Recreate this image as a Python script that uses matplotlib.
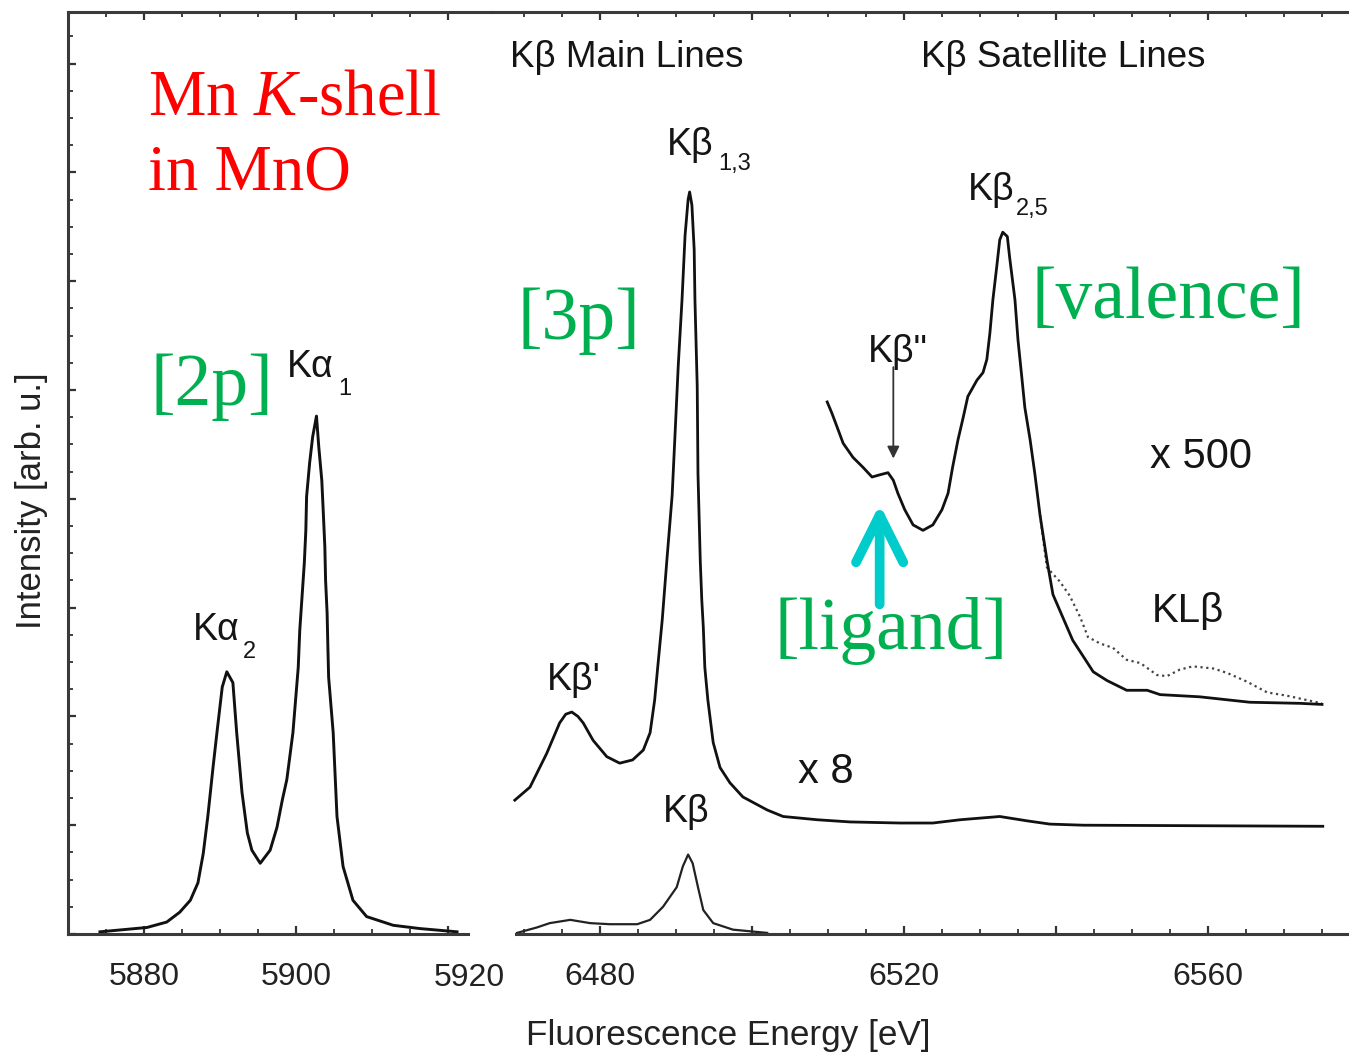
import matplotlib
matplotlib.use("Agg")
import matplotlib.pyplot as plt
from matplotlib.ticker import FixedLocator, MultipleLocator, FuncFormatter

plt.rcParams['font.family'] = ['Liberation Sans', 'DejaVu Sans']
plt.rcParams['mathtext.fontset'] = 'custom'
plt.rcParams['mathtext.rm'] = 'Liberation Serif'
plt.rcParams['mathtext.it'] = 'Liberation Serif:italic'

# K-alpha emission (left panel)
ka_energy = [5874.2, 5880.4, 5883.0, 5884.7, 5886.1, 5887.1, 5887.8, 5888.4, 5889.1, 5889.6,
             5890.3, 5890.9, 5891.7, 5892.2, 5892.9, 5893.6, 5894.2, 5895.3, 5896.6, 5897.5,
             5898.2, 5898.8, 5899.6, 5900.3, 5900.5, 5900.8, 5901.1, 5901.3, 5901.4, 5901.8,
             5902.2, 5902.7, 5903.0, 5903.4, 5903.6, 5903.8, 5903.9, 5904.1, 5904.2, 5904.3,
             5904.9, 5905.4, 5906.2, 5907.5, 5909.3, 5912.8, 5916.3, 5921.2]
ka_int = [0.02, 0.06, 0.11, 0.20, 0.31, 0.47, 0.74, 1.08, 1.54, 1.85,
          2.27, 2.41, 2.31, 1.85, 1.30, 0.93, 0.77, 0.65, 0.77, 0.98,
          1.23, 1.42, 1.85, 2.45, 2.79, 3.10, 3.41, 3.71, 4.02, 4.33,
          4.57, 4.76, 4.48, 4.17, 3.87, 3.56, 3.25, 2.95, 2.64, 2.36,
          1.85, 1.08, 0.62, 0.31, 0.16, 0.08, 0.05, 0.02]

# K-beta main lines, as measured (x1)
kb_energy = [6469.1, 6471.7, 6473.4, 6476.1, 6478.7, 6481.3, 6484.9, 6486.6, 6488.3, 6490.1,
             6490.9, 6491.6, 6492.2, 6492.9, 6493.6, 6494.9, 6497.5, 6502.0]
kb_int = [0.01, 0.06, 0.10, 0.13, 0.10, 0.09, 0.09, 0.13, 0.25, 0.43,
          0.62, 0.73, 0.65, 0.43, 0.22, 0.10, 0.04, 0.01]

# K-beta main lines, x8
kb8_energy = [6468.8, 6470.8, 6473.0, 6474.7, 6475.5, 6476.3, 6477.1, 6477.8, 6479.1, 6480.9,
              6482.6, 6484.3, 6485.7, 6486.6, 6487.2, 6487.6, 6488.2, 6488.8, 6489.5, 6489.9,
              6490.3, 6490.8, 6491.2, 6491.6, 6491.8, 6492.1, 6492.4, 6492.5, 6492.8, 6492.9,
              6493.2, 6493.4, 6493.6, 6493.8, 6494.2, 6494.9, 6495.8, 6497.1, 6498.8, 6502.0,
              6504.1, 6508.6, 6512.9, 6519.5, 6523.8, 6527.4, 6532.6, 6536.2, 6539.2, 6543.6,
              6575.1]
kb8_int = [1.23, 1.35, 1.66, 1.94, 2.02, 2.04, 2.00, 1.94, 1.78, 1.63,
           1.57, 1.60, 1.69, 1.85, 2.15, 2.45, 2.89, 3.43, 4.03, 4.62,
           5.22, 5.83, 6.42, 6.75, 6.82, 6.70, 6.29, 5.83, 5.03, 4.23,
           3.43, 3.07, 2.82, 2.45, 2.15, 1.76, 1.53, 1.39, 1.26, 1.14,
           1.08, 1.05, 1.03, 1.02, 1.02, 1.05, 1.08, 1.04, 1.01, 1.00,
           0.99]

# K-beta satellite lines, x500 (solid)
sat_energy = [6509.9, 6510.5, 6511.2, 6512.0, 6513.3, 6514.6, 6515.8, 6516.8, 6517.9, 6518.6,
              6519.2, 6520.1, 6521.2, 6522.5, 6523.8, 6525.0, 6525.8, 6526.4, 6527.1, 6527.8,
              6528.4, 6529.6, 6530.4, 6530.9, 6531.3, 6531.7, 6532.2, 6532.6, 6533.0, 6533.6,
              6533.9, 6534.6, 6535.0, 6535.5, 6535.9, 6536.6, 6537.2, 6537.9, 6538.8, 6539.6,
              6540.9, 6542.2, 6543.6, 6544.9, 6546.7, 6549.3, 6552.0, 6553.7, 6558.9, 6565.5,
              6572.1, 6575.0]
sat_int = [4.89, 4.79, 4.66, 4.51, 4.38, 4.29, 4.20, 4.22, 4.24, 4.17,
           4.05, 3.90, 3.76, 3.71, 3.76, 3.90, 4.05, 4.29, 4.54, 4.75,
           4.94, 5.09, 5.16, 5.28, 5.52, 5.83, 6.13, 6.38, 6.45, 6.41,
           6.22, 5.83, 5.46, 5.12, 4.84, 4.54, 4.24, 3.85, 3.44, 3.12,
           2.91, 2.70, 2.55, 2.41, 2.33, 2.24, 2.24, 2.20, 2.18, 2.13,
           2.12, 2.11]

# second satellite spectrum (dotted), splits off the solid one on the high side
sat2_energy = [6537.9, 6538.8, 6540.5, 6541.8, 6543.2, 6544.2, 6545.8, 6547.5, 6549.3, 6551.1,
               6553.3, 6554.6, 6556.3, 6558.0, 6560.7, 6562.5, 6565.1, 6567.8, 6570.4, 6573.0,
               6575.0]
sat2_int = [3.85, 3.37, 3.24, 3.11, 2.91, 2.73, 2.67, 2.63, 2.52, 2.49,
            2.38, 2.37, 2.43, 2.46, 2.44, 2.40, 2.32, 2.22, 2.19, 2.15,
            2.12]

W, H = 1349, 1057
fig = plt.figure(figsize=(W / 100, H / 100), dpi=100)
ax1 = fig.add_axes([68 / W, 123 / H, 424 / W, 922 / H])
ax2 = fig.add_axes([492 / W, 123 / H, 857 / W, 922 / H])

for ax in (ax1, ax2):
    ax.set_ylim(0, 8.474)
    for s in ax.spines.values():
        s.set_linewidth(2.2)
        s.set_color('#3a3a3a')
    ax.spines['right'].set_visible(False)
    ax.tick_params(axis='x', which='both', direction='in', top=True, bottom=True,
                   colors='#333333', labelcolor='#222222', labelsize=23, pad=20)
    ax.tick_params(axis='x', which='major', length=6, width=1.6)
    ax.tick_params(axis='x', which='minor', length=3.5, width=1.3)

ax1.set_xlim(5870.0, 5925.8)
ax2.set_xlim(6465.8, 6578.55)
ax2.spines['left'].set_visible(False)
ax1.spines['bottom'].set_bounds(5870.0, 5922.6)
ax2.spines['bottom'].set_bounds(6468.9, 6578.55)

ax1.xaxis.set_major_locator(FixedLocator([5880, 5900, 5920]))
ax1.xaxis.set_minor_locator(FixedLocator(list(range(5870, 5921, 5))))
# the 5920 label sits right of its tick in the original, so it is placed by hand
ax1.xaxis.set_major_formatter(FuncFormatter(lambda v, p: '' if v > 5915 else f'{v:.0f}'))
ax1.text(5922.8, -0.0475, '5920', transform=ax1.get_xaxis_transform(),
         ha='center', va='center', fontsize=23, color='#222222')

ax2.xaxis.set_major_locator(MultipleLocator(20))
ax2.xaxis.set_minor_locator(FixedLocator(list(range(6470, 6580, 5))))
ax2.xaxis.set_major_formatter(FuncFormatter(lambda v, p: f'{v:.0f}' if round(v - 6480) % 40 == 0 else ''))

ax1.yaxis.set_major_locator(MultipleLocator(1))
ax1.yaxis.set_minor_locator(MultipleLocator(0.25))
ax1.tick_params(axis='y', which='both', direction='in', labelleft=False, colors='#333333')
ax1.tick_params(axis='y', which='major', length=6, width=1.6)
ax1.tick_params(axis='y', which='minor', length=3.5, width=1.3)
ax2.tick_params(axis='y', which='both', left=False, labelleft=False)

# spectra
ax1.plot(ka_energy, ka_int, color='#111111', lw=2.1)
ax2.plot(kb_energy, kb_int, color='#222222', lw=1.6)
ax2.plot(kb8_energy, kb8_int, color='#111111', lw=2.0)
ax2.plot(sat2_energy, sat2_int, color='#444444', lw=1.6, linestyle=(0, (1, 1.6)))
ax2.plot(sat_energy, sat_int, color='#111111', lw=2.0)

# peak labels
lab = dict(fontsize=27, color='#151515', va='baseline')
big = dict(fontsize=30, color='#151515', va='baseline')
sub = dict(fontsize=17, color='#151515', va='baseline')
ax1.text(5898.8, 5.12, 'K\u03b1', **lab)
ax1.text(5905.6, 4.95, '1', **sub)
ax1.text(5886.4, 2.70, 'K\u03b1', **lab)
ax1.text(5893.0, 2.54, '2', **sub)
ax2.text(6488.8, 7.16, 'K\u03b2', **lab)
ax2.text(6495.6, 7.02, '1,3', **sub)
ax2.text(6528.4, 6.75, 'K\u03b2', **lab)
ax2.text(6534.7, 6.61, '2,5', **sub)
ax2.text(6473.0, 2.24, "K\u03b2'", **lab)
ax2.text(6488.3, 1.03, 'K\u03b2', **lab)
ax2.text(6506.1, 1.39, 'x 8', **big)
ax2.text(6515.3, 5.26, 'K\u03b2"', **lab)
ax2.text(6552.4, 4.28, 'x 500', **big)
ax2.text(6552.6, 2.87, 'KL\u03b2', fontsize=29, color='#151515', va='baseline')
ax2.text(6468.2, 7.97, 'K\u03b2 Main Lines', fontsize=26.5, color='#151515', va='baseline')
ax2.text(6522.2, 7.97, 'K\u03b2 Satellite Lines', fontsize=26.5, color='#151515', va='baseline')

ax2.annotate('', xy=(6518.6, 4.37), xytext=(6518.6, 5.21),
             arrowprops=dict(arrowstyle='-|>', color='#333333', lw=1.3,
                             mutation_scale=18, shrinkA=0, shrinkB=0))

# coloured annotations
serif = dict(family='Liberation Serif', va='baseline')
ax1.text(5880.5, 7.53, 'Mn $\\mathit{K}$-shell', color='#ff0000', fontsize=46.5, **serif)
ax1.text(5880.5, 6.84, 'in MnO', color='#ff0000', fontsize=46.5, **serif)
green = '#00b050'
ax1.text(5880.8, 4.86, '[2p]', color=green, fontsize=53, **serif)
ax2.text(6469.2, 5.47, '[3p]', color=green, fontsize=53, **serif)
ax2.text(6536.8, 5.66, '[valence]', color=green, fontsize=53, **serif)
ax2.text(6503.0, 2.62, '[ligand]', color=green, fontsize=53, **serif)

ax2.annotate('', xy=(6516.8, 3.95), xytext=(6516.8, 3.03),
             arrowprops=dict(arrowstyle='->,head_length=34,head_width=17', color='#00cccc',
                             lw=7, mutation_scale=1, shrinkA=0, shrinkB=0,
                             capstyle='round', joinstyle='round'))

fig.text(728 / W, 1 - 1035 / H, 'Fluorescence Energy [eV]', ha='center', va='center',
         fontsize=25.3, color='#222222')
fig.text(32 / W, 1 - 501 / H, 'Intensity [arb. u.]', ha='center', va='center',
         rotation=90, fontsize=25, color='#222222')

fig.savefig('out.png', dpi=100)
